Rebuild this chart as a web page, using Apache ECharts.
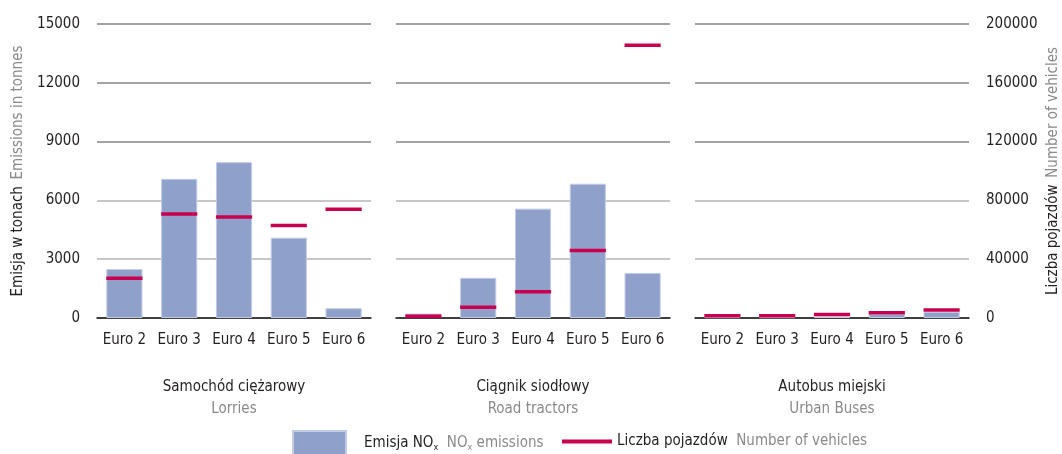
<!DOCTYPE html>
<html>
<head>
<meta charset="utf-8">
<style>
  html, body { margin: 0; padding: 0; background: #ffffff; }
  #chart { width: 1062px; height: 454px; }
</style>
<script src="https://cdn.jsdelivr.net/npm/echarts@6/dist/echarts.min.js"></script>
</head>
<body>
<div id="chart"></div>
<script>
// Euro emission classes shared by every panel
const categories = ['Euro 2', 'Euro 3', 'Euro 4', 'Euro 5', 'Euro 6'];

// Panel captions (Polish / English)
const panelTitlesPl = ['Samochód ciężarowy', 'Ciągnik siodłowy', 'Autobus miejski'];
const panelTitlesEn = ['Lorries', 'Road tractors', 'Urban Buses'];

// NOx emissions, tonnes
const emissionsLorries = [2500, 7100, 7950, 4100, 500];
const emissionsTractors = [230, 2050, 5580, 6850, 2300];
const emissionsBuses = [40, 40, 70, 200, 320];

// Number of vehicles
const vehiclesLorries = [27000, 70700, 68700, 63000, 74000];
const vehiclesTractors = [1200, 7300, 17900, 46000, 185500];
const vehiclesBuses = [1500, 1600, 2300, 3600, 5400];

// Axis scales
const emissionAxis = { min: 0, max: 15000, interval: 3000 };
const vehicleAxis = { min: 0, max: 200000, interval: 40000 };

const emissionsByPanel = [emissionsLorries, emissionsTractors, emissionsBuses];
const vehiclesByPanel = [vehiclesLorries, vehiclesTractors, vehiclesBuses];

const FONT = '"Liberation Sans Narrow", "DejaVu Sans Condensed", sans-serif';
const FS = 15;
const DARK = '#231f20';
const GREY = '#8a8a8a';
const BAR = '#8fa1ca';
const RED = '#c9004f';
const BAR_RATIO = 0.66;

const NOX_NAME = 'Emisja NOx';
const VEH_NAME = 'Liczba pojazdów';

const chart = echarts.init(document.getElementById('chart'), null, { renderer: 'canvas' });

const grids = [], xAxes = [], yAxes = [], series = [];
const PANEL_LEFT = 97, PANEL_W = 274, PANEL_STEP = 299;

const plainNumber = v => String(v);

for (let p = 0; p < 3; p++) {
  grids.push({ left: PANEL_LEFT + p * PANEL_STEP, width: PANEL_W, top: 24, height: 294 });

  xAxes.push({
    type: 'category',
    gridIndex: p,
    data: categories,
    axisTick: { show: false },
    axisLine: { show: true, lineStyle: { color: '#1a1a1a', width: 1.5 } },
    axisLabel: { color: DARK, fontFamily: FONT, fontSize: FS, margin: 15, interval: 0 },
    name: '{a|' + panelTitlesPl[p] + '}\n{b|' + panelTitlesEn[p] + '}',
    nameLocation: 'middle',
    nameGap: 58,
    nameTextStyle: {
      rich: {
        a: { color: DARK, fontFamily: FONT, fontSize: FS, lineHeight: 22, align: 'center' },
        b: { color: GREY, fontFamily: FONT, fontSize: FS, lineHeight: 22, align: 'center' }
      }
    }
  });

  // emissions axis (left)
  yAxes.push({
    type: 'value',
    gridIndex: p,
    position: 'left',
    min: emissionAxis.min, max: emissionAxis.max, interval: emissionAxis.interval,
    axisLine: { show: false },
    axisTick: { show: false },
    axisLabel: { show: p === 0, color: DARK, fontFamily: FONT, fontSize: FS, margin: 17, formatter: plainNumber },
    splitLine: {
      show: true,
      lineStyle: { color: ['#999999', '#b4b4b4', '#b4b4b4', '#858585', '#858585', '#858585'], width: 1.5 }
    },
    name: p === 0 ? '{a|Emisja w tonach}  {b|Emissions in tonnes}' : '',
    nameLocation: 'middle',
    nameRotate: 90,
    nameGap: 71,
    nameTextStyle: {
      rich: {
        a: { color: DARK, fontFamily: FONT, fontSize: FS },
        b: { color: GREY, fontFamily: FONT, fontSize: FS }
      }
    }
  });

  // vehicles axis (right)
  yAxes.push({
    type: 'value',
    gridIndex: p,
    position: 'right',
    min: vehicleAxis.min, max: vehicleAxis.max, interval: vehicleAxis.interval,
    axisLine: { show: false },
    axisTick: { show: false },
    splitLine: { show: false },
    axisLabel: { show: p === 2, color: DARK, fontFamily: FONT, fontSize: FS, margin: 17, formatter: plainNumber },
    name: p === 2 ? '{a|Liczba pojazdów}  {b|Number of vehicles}' : '',
    nameLocation: 'middle',
    nameRotate: 90,
    nameGap: 77,
    nameTextStyle: {
      rich: {
        a: { color: DARK, fontFamily: FONT, fontSize: FS },
        b: { color: GREY, fontFamily: FONT, fontSize: FS }
      }
    }
  });

  series.push({
    name: NOX_NAME,
    type: 'bar',
    xAxisIndex: p,
    yAxisIndex: p * 2,
    barWidth: (BAR_RATIO * 100) + '%',
    itemStyle: { color: BAR, borderColor: '#c3cce5', borderWidth: 1 },
    data: emissionsByPanel[p],
    z: 2
  });

  // vehicle counts drawn as short horizontal dashes spanning the bar width
  series.push({
    name: VEH_NAME,
    type: 'custom',
    xAxisIndex: p,
    yAxisIndex: p * 2 + 1,
    itemStyle: { color: RED },
    data: vehiclesByPanel[p].map((v, i) => [i, v]),
    encode: { x: 0, y: 1 },
    renderItem: function (params, api) {
      const pt = api.coord([api.value(0), api.value(1)]);
      const w = api.size([1, 0])[0] * BAR_RATIO;
      const h = 3.5;
      return {
        type: 'rect',
        shape: { x: pt[0] - w / 2, y: pt[1] - h / 2, width: w, height: h },
        style: { fill: RED }
      };
    },
    z: 5
  });
}

const legendRich = {
  a: { color: DARK, fontFamily: FONT, fontSize: FS, lineHeight: 20 },
  ap: { color: DARK, fontFamily: FONT, fontSize: FS, lineHeight: 20, padding: [0, 0, 0, 13] },
  b: { color: GREY, fontFamily: FONT, fontSize: FS, lineHeight: 20 },
  sa: { color: DARK, fontFamily: FONT, fontSize: 9, lineHeight: 10, padding: [10, 0, 0, 0] },
  sb: { color: GREY, fontFamily: FONT, fontSize: 9, lineHeight: 10, padding: [10, 0, 0, 0] }
};

const option = {
  backgroundColor: '#ffffff',
  animation: false,
  grid: grids,
  xAxis: xAxes,
  yAxis: yAxes,
  series: series,
  legend: [
    {
      data: [{ name: NOX_NAME, icon: 'rect' }],
      left: 287, top: 425,
      itemWidth: 53, itemHeight: 24,
      selectedMode: false,
      formatter: () => '{ap|Emisja NO}{sa|x}{b|  NO}{sb|x}{b| emissions}',
      textStyle: { rich: legendRich }
    },
    {
      data: [{ name: VEH_NAME, icon: 'rect' }],
      left: 557, top: 429,
      itemWidth: 50, itemHeight: 4,
      selectedMode: false,
      formatter: () => '{a|Liczba pojazdów}{b|  Number of vehicles}',
      textStyle: { rich: legendRich }
    }
  ]
};

chart.setOption(option);
</script>
</body>
</html>
